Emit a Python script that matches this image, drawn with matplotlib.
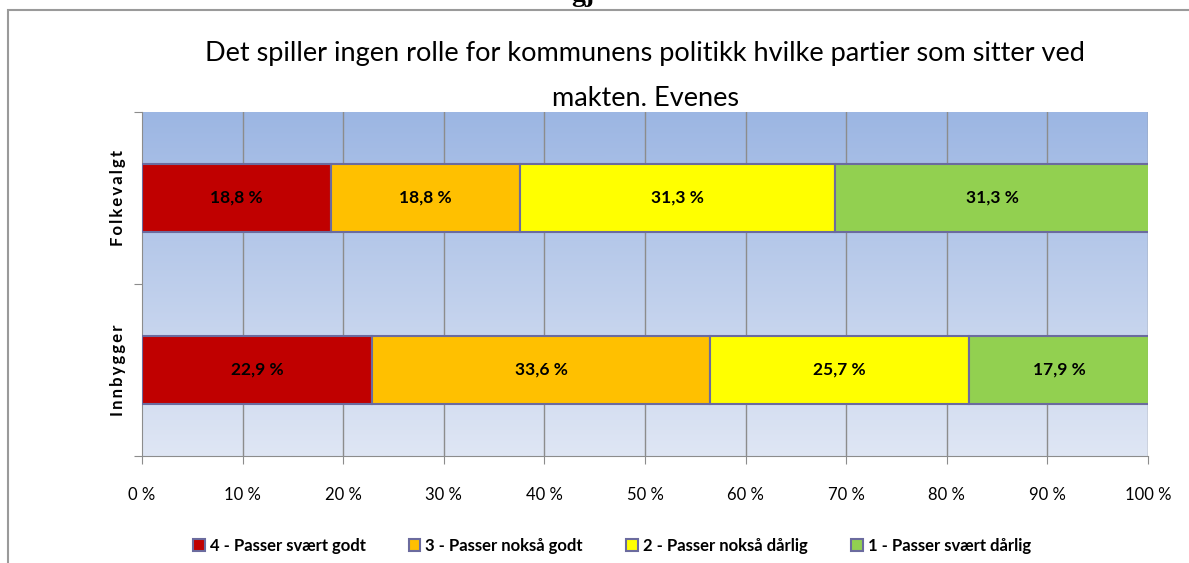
import numpy as np
import matplotlib
matplotlib.use("Agg")
import matplotlib.pyplot as plt
from matplotlib.patches import Rectangle

plt.rcParams["font.family"] = ["Lato", "DejaVu Sans"]

TITLE = "Det spiller ingen rolle for kommunens politikk hvilke partier som sitter ved\nmakten. Evenes"
groups = ["Innbygger", "Folkevalgt"]
series = ["4 - Passer svært godt", "3 - Passer nokså godt",
          "2 - Passer nokså dårlig", "1 - Passer svært dårlig"]
values = {
    "Innbygger":  [22.9, 33.6, 25.7, 17.9],
    "Folkevalgt": [18.8, 18.8, 31.3, 31.3],
}
colors = ["#C00000", "#FFC000", "#FFFF00", "#92D050"]
xticks = np.arange(0, 101, 10)
xticklabels = [f"{t} %" for t in xticks]

fig = plt.figure(figsize=(11.89, 5.63), dpi=100)
ax = fig.add_axes([142/1189, 1 - 456/563, (1148-142)/1189, (456-112)/563])

# outer frame (runs off right and bottom edge)
fig.patches.append(Rectangle((8/1189, -0.05), 1.2, 1 - 10/563 + 0.05,
                             transform=fig.transFigure, fill=False,
                             edgecolor="#9A9A9A", lw=1.5))

# gradient plot area
top = np.array([0x9C, 0xB6, 0xE3]) / 255
bot = np.array([0xDF, 0xE6, 0xF4]) / 255
t = np.linspace(0, 1, 256)[:, None, None]
img = top + (bot - top) * t
ax.imshow(img, extent=[0, 100, -0.5, 1.5], aspect="auto", zorder=0,
          interpolation="bilinear", origin="upper")

for gi, g in enumerate(groups):
    left = 0
    for si, v in enumerate(values[g]):
        ax.barh(gi, v, left=left, height=0.4, color=colors[si],
                edgecolor="#6B6B9E", lw=1.5, zorder=3,
                label=series[si] if gi == 0 else None)
        ax.text(left + v / 2, gi, f"{v:.1f} %".replace(".", ","),
                ha="center", va="center", fontsize=12.5, fontweight="bold", zorder=4)
        left += v

ax.set_xlim(0, 100)
ax.set_ylim(-0.5, 1.5)
ax.set_xticks(xticks)
ax.set_xticklabels(xticklabels, fontsize=12)
ax.set_yticks([-0.5, 0.5, 1.5])
ax.set_yticklabels([])
for xv in xticks[1:]:
    ax.axvline(xv, color="#8C8C8C", lw=1, zorder=1)
ax.tick_params(axis="x", length=6, color="#8C8C8C", pad=16)
ax.tick_params(axis="y", length=6, color="#8C8C8C")
for s in ["top", "right"]:
    ax.spines[s].set_visible(False)
for s in ["left", "bottom"]:
    ax.spines[s].set_color("#8C8C8C")

for gi, g in enumerate(groups):
    fig.text(118/1189, 1 - (370 - 172*gi)/563, "\u2009".join(g), rotation=90,
             ha="center", va="center", fontsize=12, fontweight="bold")

fig.text(645/1189, 1 - 76/563, TITLE, ha="center", va="center", fontsize=19.5,
         linespacing=1.95)
fig.text(0.49, 1 + 0.01, "gj", ha="center", va="center",
         fontsize=20, fontweight="bold", family="Liberation Serif")

leg = ax.legend(loc="upper center", bbox_to_anchor=(0.467, -0.195), ncol=4,
                frameon=False, fontsize=12, handlelength=0.7, handleheight=0.7,
                columnspacing=2.6, handletextpad=0.3)
for txt in leg.get_texts():
    txt.set_fontweight("bold")
for h in leg.legend_handles:
    h.set_linewidth(1.5)

fig.savefig("out.png", dpi=100)
